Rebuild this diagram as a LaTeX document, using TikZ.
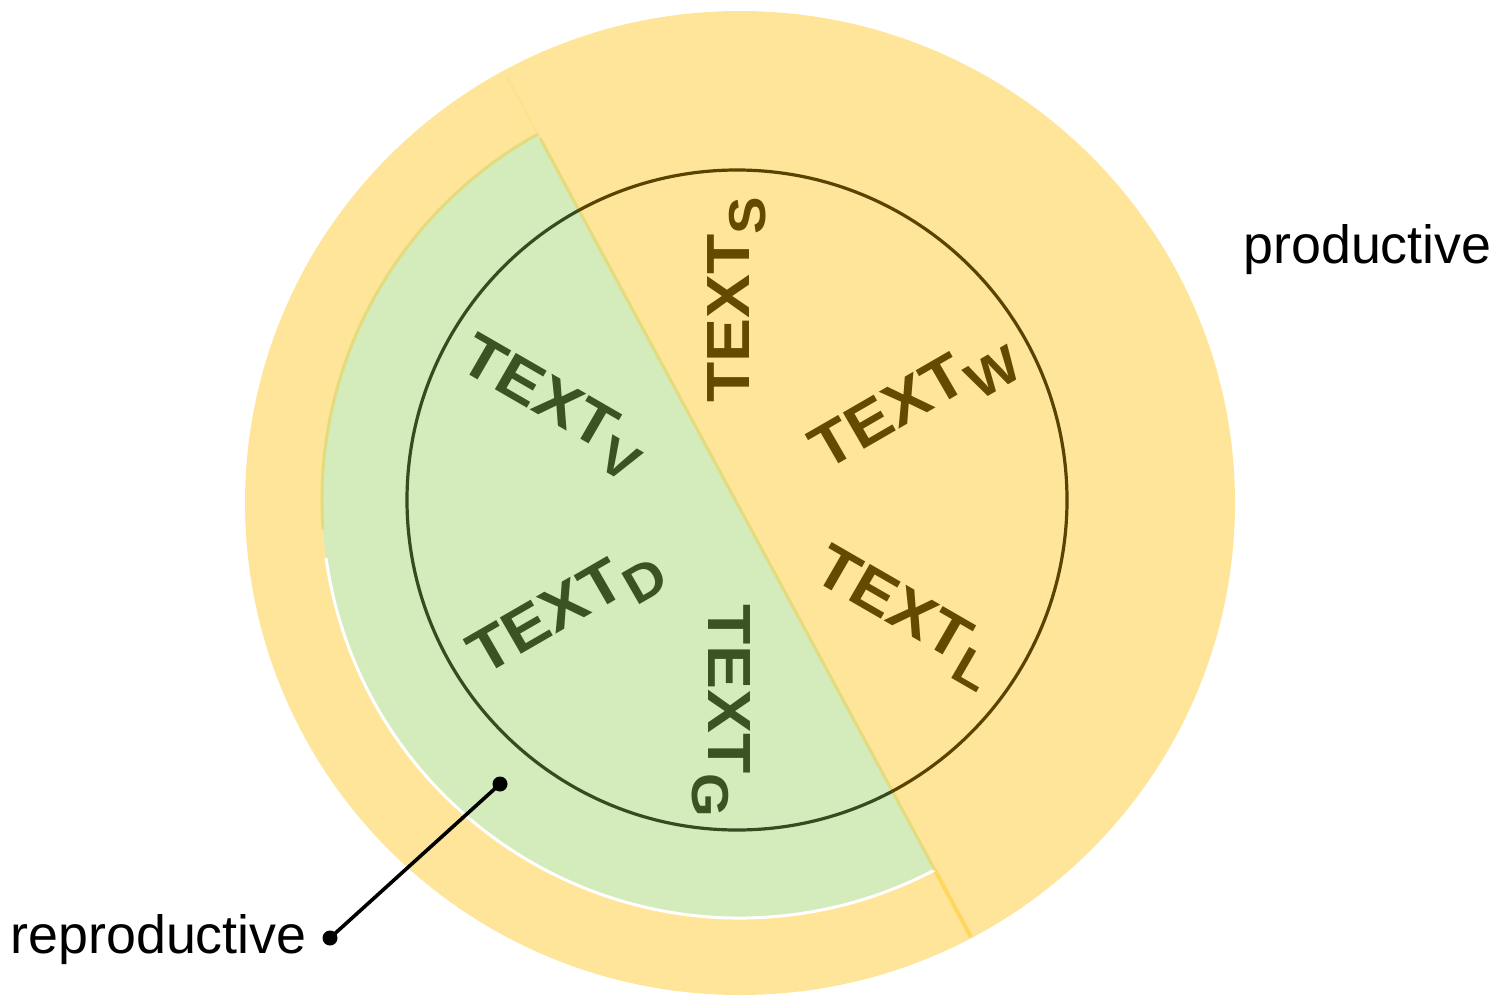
\documentclass[tikz,border=0pt]{standalone}
\usepackage{fontspec}
\setmainfont{Liberation Sans}
\newfontfamily\lblfont[FakeStretch=1.08]{Liberation Sans}
\usetikzlibrary{calc}

\definecolor{ringfill}{HTML}{FFE599}
\definecolor{leaffill}{HTML}{D4EBBC}
\definecolor{leafedge}{HTML}{E4DB7D}
\definecolor{cutdark}{HTML}{FFD75E}
\definecolor{cutlight}{HTML}{FFE08C}
\definecolor{browntext}{HTML}{634A00}
\definecolor{greentext}{HTML}{3B5323}

\tikzset{
  lbl/.style={inner sep=0pt, font=\lblfont\bfseries\fontsize{30.5pt}{30.5pt}\selectfont},
  lblbrown/.style={lbl, text=browntext},
  lblgreen/.style={lbl, text=greentext},
  caption/.style={inner sep=0pt, font=\fontsize{26.9pt}{30pt}\selectfont},
  dotnode/.style={circle, fill=black, inner sep=0pt, minimum size=7.5pt},
  leader/.style={line width=1.8pt},
  leftside/.style={insert path={(273.5,-356) -- (1203.5,1368) -- (-500,1368) -- (-500,-356) -- cycle}},
  rightside/.style={insert path={(273.5,-356) -- (1203.5,1368) -- (2000,1368) -- (2000,-356) -- cycle}},
}
\newcommand{\lblsub}[1]{TEXT\raisebox{-8pt}{\fontsize{26pt}{26pt}\selectfont #1}}

\begin{document}
\begin{tikzpicture}[x=0.5pt,y=-0.5pt]
\useasboundingbox (0,0) rectangle (1499,1001);

\coordinate (O) at (740,503);
\coordinate (C) at (740,500);
\coordinate (I) at (737,500);
\coordinate (cutA) at (506,75);
\coordinate (cutB) at (971,937);

% outer ring
\fill[ringfill] (O) ellipse [x radius=495, y radius=492];

% split line through the ring
\draw[cutlight, line width=1pt] (cutA) -- ($(cutA)!0.0731!(cutB)$);
\draw[cutdark, line width=2pt] ($(cutA)!0.9226!(cutB)$) -- (cutB);

% green sector on the left of the split
\begin{scope}
  \clip[leftside];
  \fill[leaffill] (C) circle (418);
  \draw[leafedge, line width=1.5pt] (C) ++(-100:418) arc[start angle=-100, end angle=-184, radius=418];
  \draw[white, line width=1.5pt] (C) ++(172:418) arc[start angle=172, end angle=50, radius=418];
\end{scope}
\draw[leafedge, line width=1.5pt] ($(cutA)!0.0731!(cutB)$) -- ($(cutA)!0.9226!(cutB)$);

% inner circle, coloured per side
\begin{scope}
  \clip[leftside];
  \draw[greentext!90!black, line width=1.6pt] (I) circle (330);
\end{scope}
\begin{scope}
  \clip[rightside];
  \draw[browntext!90!black, line width=1.6pt] (I) circle (330);
\end{scope}

% radial labels
\node[lblbrown, rotate=90]  (ls) at (737,300) {\lblsub{S}};
\node[lblbrown, rotate=30]  (lw) at (915,405) {\lblsub{W}};
\node[lblbrown, rotate=-30] (ll) at (905,618) {\lblsub{L}};
\node[lblgreen, rotate=-90] (lg) at (721,711) {\lblsub{G}};
\node[lblgreen, rotate=30]  (ld) at (567,613) {\lblsub{D}};
\node[lblgreen, rotate=-30] (lv) at (552,408) {\lblsub{V}};

% captions
\node[caption, anchor=base west] (prod) at (1243,263) {productive};
\node[caption, anchor=base east] (repr) at (307,953) {reproductive};

% leader from caption into the green sector
\node[dotnode] (d1) at (500,784) {};
\node[dotnode] (d2) at (330,938) {};
\draw[leader] (d1.center) -- (d2.center);
\end{tikzpicture}
\end{document}
